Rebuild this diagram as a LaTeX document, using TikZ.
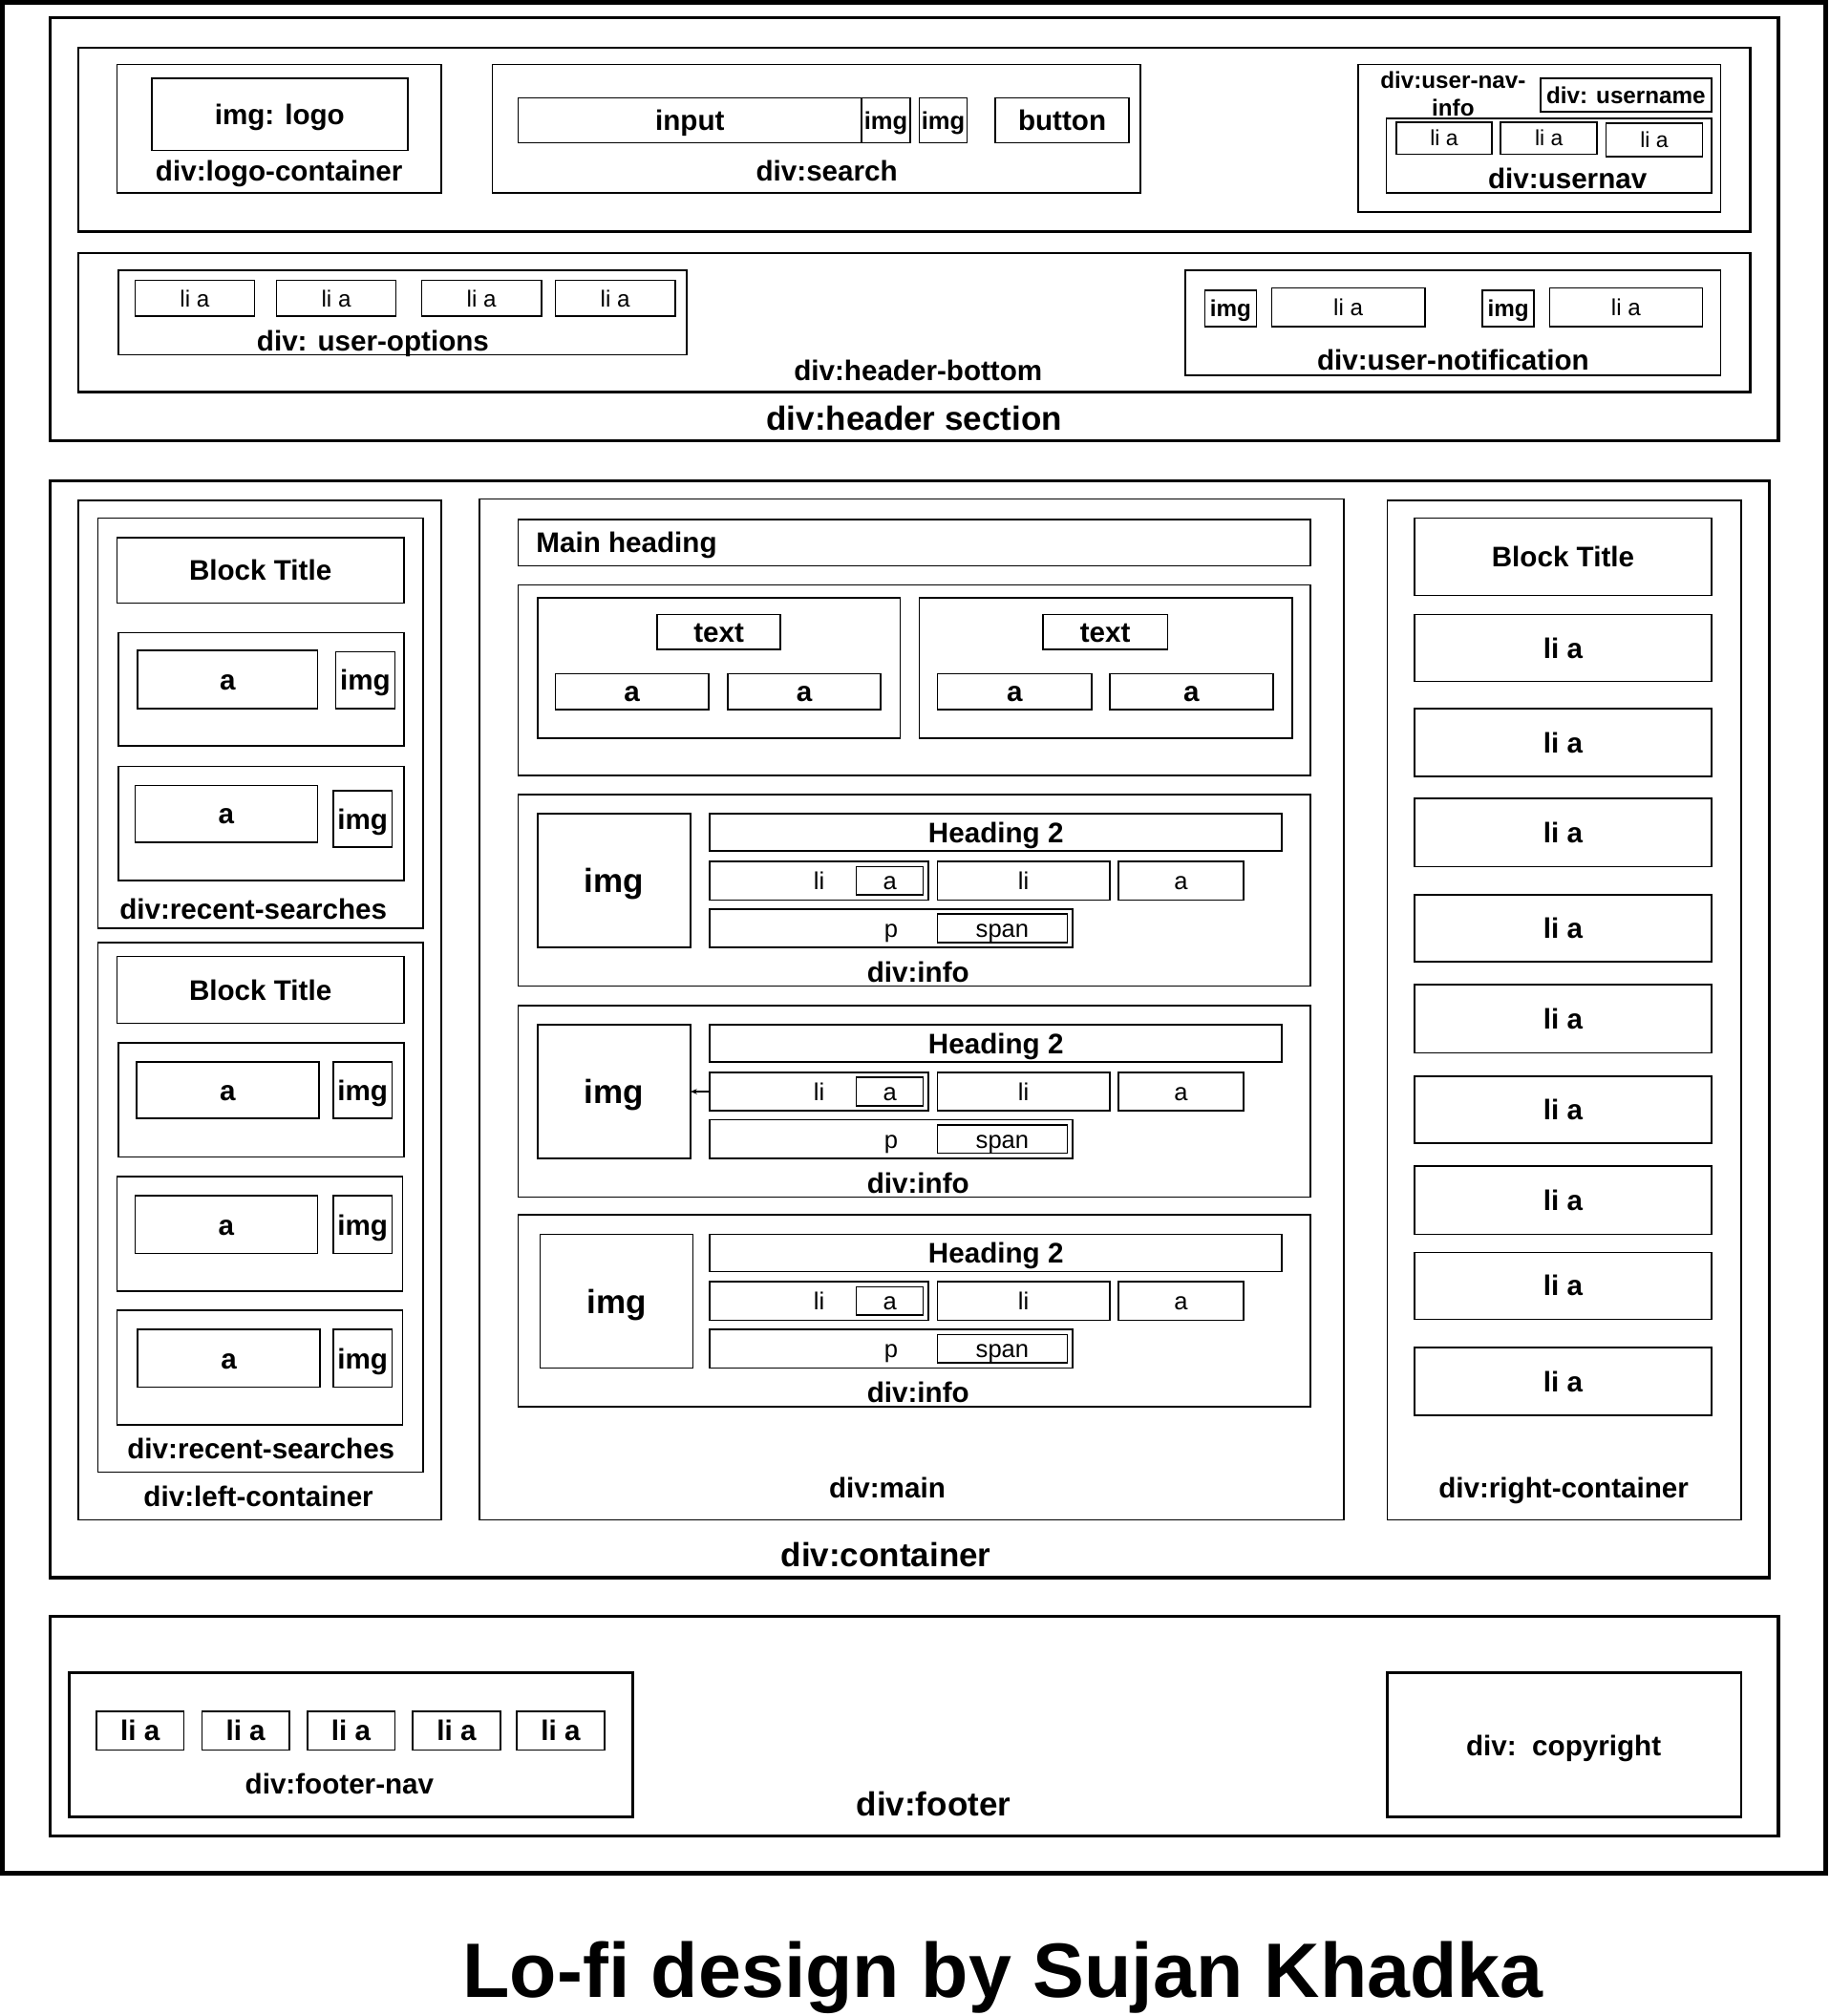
\documentclass[tikz,border=0pt]{standalone}
\usepackage{fontspec}
\setmainfont{Liberation Sans}
\usetikzlibrary{arrows.meta}
\tikzset{
  box/.style={draw, line width=1.2pt, inner sep=0pt, outer sep=0pt},
  thk/.style={line width=2.4pt},
  med/.style={line width=1.8pt},
  fb/.style={font=\fontsize{#1}{#1}\selectfont\bfseries, text height={0.72*#1pt}, text depth=0pt},
  fr/.style={font=\fontsize{#1}{#1}\selectfont, text height={0.72*#1pt}, text depth=0pt},
  lbl/.style={inner sep=0pt, outer sep=0pt},
}
% [opts]{name}{x1}{y1}{x2}{y2}{text}
\newcommand\bx[7][]{\node[box,#1,minimum width={(#5)-(#3)},minimum height={(#6)-(#4)}] (#2) at ({((#3)+(#5))/2},{((#4)+(#6))/2}) {#7};}
\begin{document}
\begin{tikzpicture}[x=1pt,y=-1pt]
\useasboundingbox (0,0) rectangle (1423,1568);
% page border
\bx[line width=3.5pt]{page}{2}{2}{1420}{1457}{}

% ---------------- header
\bx[thk]{hdr}{39}{14}{1383}{343}{}
\node[lbl,fb=26] (hdrL) at (711,325) {div:header section};
\bx[med]{htop}{61}{37}{1361}{180}{}
\bx{logoc}{91}{50}{343}{150}{}
\bx[fb=22]{logo}{118}{61}{317}{117}{img: logo}
\node[lbl,fb=22] (logocL) at (217,133) {div:logo-container};
\bx{search}{383}{50}{887}{150}{}
\bx[fb=22]{input}{403}{76}{670}{111}{input}
\bx[fb=19]{simgA}{670}{76}{708}{111}{img}
\bx[fb=19]{simgB}{715}{76}{752}{111}{img}
\bx[fb=22]{button}{774}{76}{878}{111}{button}
\node[lbl,fb=22] (searchL) at (643,133) {div:search};
\bx{uni}{1056}{50}{1338}{165}{}
\node[lbl,fb=18] (uniLa) at (1130,62) {div:user-nav-};
\node[lbl,fb=18] (uniLb) at (1130,84) {info};
\bx[fb=18]{uname}{1198}{61}{1331}{87}{div: username}
\bx{unav}{1078}{92}{1331}{150}{}
\bx[fr=17]{unA}{1086}{95}{1160}{120}{li a}
\bx[fr=17]{unB}{1167}{95}{1242}{120}{li a}
\bx[fr=17]{unC}{1249}{96}{1324}{122}{li a}
\node[lbl,fb=22] (unavL) at (1219,139) {div:usernav};

\bx[med]{hbot}{61}{197}{1361}{305}{}
\node[lbl,fb=22] (hbotL) at (714,288) {div:header-bottom};
\bx{uopt}{92}{210}{534}{276}{}
\bx[fr=18]{uoA}{105}{218}{198}{246}{li a}
\bx[fr=18]{uoB}{215}{218}{308}{246}{li a}
\bx[fr=18]{uoC}{328}{218}{421}{246}{li a}
\bx[fr=18]{uoD}{432}{218}{525}{246}{li a}
\node[lbl,fb=22] (uoptL) at (290,265) {div: user-options};
\bx{unot}{922}{210}{1338}{292}{}
\bx[fb=18]{noA}{937}{226}{977}{254}{img}
\bx[fr=18]{noB}{989}{224}{1108}{254}{li a}
\bx[fb=18]{noC}{1153}{226}{1193}{254}{img}
\bx[fr=18]{noD}{1205}{224}{1324}{254}{li a}
\node[lbl,fb=22] (unotL) at (1130,280) {div:user-notification};

% ---------------- container
\bx[thk]{cont}{39}{374}{1376}{1227}{}
\node[lbl,fb=26] (contL) at (689,1209) {div:container};

% left
\bx{left}{61}{389}{343}{1182}{}
\node[lbl,fb=22] (leftL) at (201,1164) {div:left-container};
\bx{rsA}{76}{403}{329}{722}{}
\node[lbl,fb=22] (rsAL) at (197,707) {div:recent-searches};
\bx[fb=22]{btA}{91}{418}{314}{469}{Block Title}
\bx{itA}{92}{492}{314}{580}{}
\bx[fb=22]{itAa}{107}{506}{247}{551}{a}
\bx[fb=22]{itAi}{261}{507}{307}{551}{img}
\bx{itB}{92}{596}{314}{685}{}
\bx[fb=22]{itBa}{105}{611}{247}{655}{a}
\bx[fb=22]{itBi}{259}{615}{305}{659}{img}
\bx{rsB}{76}{733}{329}{1145}{}
\node[lbl,fb=22] (rsBL) at (203,1127) {div:recent-searches};
\bx[fb=22]{btB}{91}{744}{314}{796}{Block Title}
\bx{itC}{92}{811}{314}{900}{}
\bx[fb=22]{itCa}{106}{826}{248}{870}{a}
\bx[fb=22]{itCi}{259}{826}{305}{870}{img}
\bx{itD}{91}{915}{313}{1004}{}
\bx[fb=22]{itDa}{105}{930}{247}{975}{a}
\bx[fb=22]{itDi}{259}{930}{305}{975}{img}
\bx{itE}{91}{1019}{313}{1108}{}
\bx[fb=22]{itEa}{107}{1034}{249}{1079}{a}
\bx[fb=22]{itEi}{259}{1034}{305}{1079}{img}

% main
\bx{main}{373}{388}{1045}{1182}{}
\node[lbl,fb=22] (mainL) at (690,1157) {div:main};
\bx{mhead}{403}{404}{1019}{440}{}
\node[lbl,fb=22,anchor=west] (mheadT) at (417,422) {Main heading};
\bx{cards}{403}{455}{1019}{603}{}
\bx{cardA}{418}{465}{700}{574}{}
\bx[fb=22]{cardAt}{511}{478}{607}{505}{text}
\bx[fb=22]{cardAa}{432}{524}{551}{552}{a}
\bx[fb=22]{cardAb}{566}{524}{685}{552}{a}
\bx{cardB}{715}{465}{1005}{574}{}
\bx[fb=22]{cardBt}{811}{478}{908}{505}{text}
\bx[fb=22]{cardBa}{729}{524}{849}{552}{a}
\bx[fb=22]{cardBb}{863}{524}{990}{552}{a}

\foreach \n/\t/\ix in {1/618/418, 2/782/418, 3/945/420}{
  \bx{info\n}{403}{\t}{1019}{\t+149}{}
  \bx[fb=26]{iimg\n}{\ix}{\t+15}{\ix+119}{\t+119}{img}
  \bx[fb=22]{ihead\n}{552}{\t+15}{997}{\t+44}{Heading 2}
  \bx[fr=19]{ili\n}{552}{\t+52}{722}{\t+82}{li}
  \bx[fr=19]{ilia\n}{666}{\t+56}{718}{\t+78}{a}
  \bx[fr=19]{ilib\n}{729}{\t+52}{863}{\t+82}{li}
  \bx[fr=19]{ia\n}{870}{\t+52}{967}{\t+82}{a}
  \bx[fr=19]{ip\n}{552}{\t+89}{834}{\t+119}{p}
  \bx[fr=19]{ispan\n}{729}{\t+93}{830}{\t+115}{span}
  \node[lbl,fb=22] (infoL\n) at (714,\t+138) {div:info};
}
\draw[line width=0.8pt,-{Stealth[length=5pt,width=4pt]}] (ili2.west) -- (iimg2.east);

% right
\bx{right}{1079}{389}{1354}{1182}{}
\node[lbl,fb=22] (rightL) at (1216,1157) {div:right-container};
\bx[fb=22]{rbt}{1100}{403}{1331}{463}{Block Title}
\foreach \i/\a/\b in {1/478/530, 2/551/604, 3/621/674, 4/696/748, 5/766/819, 6/837/889, 7/907/960, 8/974/1026, 9/1048/1101}{
  \bx[fb=22]{rli\i}{1100}{\a}{1331}{\b}{li a}
}

% ---------------- footer
\bx[thk]{foot}{39}{1257}{1383}{1428}{}
\node[lbl,fb=26] (footL) at (726,1403) {div:footer};
\bx[med]{fnav}{54}{1301}{492}{1413}{}
\node[lbl,fb=22] (fnavL) at (264,1387) {div:footer-nav};
\foreach \i/\a in {1/75, 2/157, 3/239, 4/321, 5/402}{
  \bx[fb=22]{fli\i}{\a}{1331}{\a+68}{1361}{li a}
}
\bx[med]{copy}{1079}{1301}{1354}{1413}{}
\node[lbl,fb=22] (copyL) at (1216,1358) {div:\ \ copyright};

% title
\node[lbl,fb=60] (title) at (780,1532) {Lo-fi design by Sujan Khadka};
\end{tikzpicture}
\end{document}
